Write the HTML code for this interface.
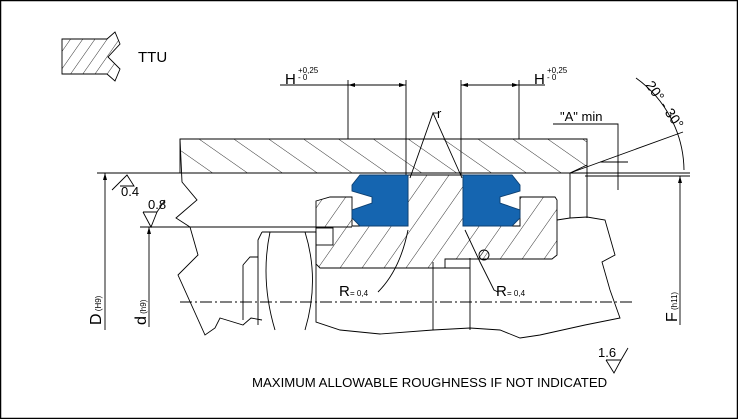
<!DOCTYPE html>
<html><head><style>
html,body{margin:0;padding:0;background:#fff;}
svg{display:block}
text{font-family:"Liberation Sans",sans-serif;fill:#000}
</style></head><body>
<svg width="738" height="419" viewBox="0 0 738 419" xmlns="http://www.w3.org/2000/svg">
<defs>
<pattern id="h" patternUnits="userSpaceOnUse" width="18" height="18" patternTransform="rotate(35)">
<line x1="0" y1="0" x2="0" y2="18" stroke="#000" stroke-width="0.8"/>
</pattern>
<pattern id="hh" patternUnits="userSpaceOnUse" width="20" height="20" patternTransform="rotate(-55)">
<line x1="0" y1="0" x2="0" y2="20" stroke="#000" stroke-width="0.8"/>
</pattern>
<pattern id="h2" patternUnits="userSpaceOnUse" width="10" height="10" patternTransform="rotate(35)">
<line x1="0" y1="0" x2="0" y2="10" stroke="#000" stroke-width="0.8"/>
</pattern>
<pattern id="h3" patternUnits="userSpaceOnUse" width="4" height="4" patternTransform="rotate(35)">
<line x1="0" y1="0" x2="0" y2="4" stroke="#000" stroke-width="0.8"/>
</pattern>
</defs>
<rect x="0.5" y="0.5" width="737" height="418" fill="#fff" stroke="#000" stroke-width="1.5"/>
<g fill="none" stroke="#000" stroke-width="0.9">
<!-- TTU icon -->
<path d="M62,39 L107,39 L115,32 L120,44 L108,57 L120,69 L115,81 L107,74 L62,74 Z" fill="url(#h2)"/>
<!-- housing -->
<path d="M180,139 L587,139 L587,165 L570,173 L180,173 Z" fill="url(#hh)"/>
<line x1="97" y1="173" x2="180" y2="173"/>
<line x1="570" y1="173" x2="690" y2="173"/>
<line x1="585" y1="176" x2="690" y2="176"/>
<line x1="570" y1="173" x2="570" y2="218"/><line x1="587" y1="165" x2="587" y2="218"/>
<!-- left break line -->
<path d="M180,139 L182,182 L197,200 L176,218 L190,227 L198,255 L178,275 L205,335 L215,328 L220,318 L243,325 L251,318 L262,320"/>
<line x1="140" y1="227" x2="352" y2="227"/>
<line x1="180" y1="173" x2="352" y2="173"/>
<!-- piston -->
<path d="M316,201 L330,197 L352,197 L352,226 L408,226 L408,175 L463,175 L463,226 L520,226 L520,197 L555,197 L557,200 L557,255 L552,259 L445,259 L445,268 L320,268 L316,264 Z" fill="url(#h)"/>
<rect x="316" y="228" width="17" height="17" fill="#fff"/>
<line x1="320" y1="268" x2="470" y2="268"/>
<line x1="433" y1="262" x2="433" y2="330"/><line x1="470" y1="258" x2="470" y2="330"/>
<circle cx="484" cy="255" r="5" fill="url(#h3)"/>
<!-- rod/nut -->
<path d="M262,232 L316,232 L316,300 M262,232 L258,240 L258,325"/>
<path d="M243,265 L243,320 M243,265 L250,257 L258,257"/>
<path d="M270,232 Q260,280 275,330"/>
<path d="M305,232 Q320,280 305,330"/>
<path d="M316,300 L316,322 L340,330 L380,334 L433,330 L470,328 L500,330 L520,338 L540,335 L585,325 L620,318 L610,290 L602,262 L615,255 L605,220 L587,217 L570,218 L557,220"/>
<!-- seals -->
<path d="M352,185 L360,175 L408,175 L408,226 L360,226 L352,218 L352,210 L372,203 L372,197 L352,191 Z" fill="#1565b0" stroke="#0d3f70"/>
<path d="M520,185 L512,175 L463,175 L463,226 L512,226 L520,218 L520,210 L500,203 L500,197 L520,191 Z" fill="#1565b0" stroke="#0d3f70"/>
<!-- centerline -->
<line x1="180" y1="302" x2="635" y2="302" stroke-dasharray="12,3,2,3"/>
<!-- H dimensions -->
<line x1="348" y1="80" x2="348" y2="139"/><line x1="406" y1="80" x2="406" y2="175"/>
<line x1="280" y1="85" x2="406" y2="85"/>
<line x1="461" y1="80" x2="461" y2="175"/><line x1="519" y1="80" x2="519" y2="139"/>
<line x1="461" y1="85" x2="545" y2="85"/>
<!-- r leaders -->
<path d="M410,178 L433,113 L462,178"/><line x1="433" y1="113" x2="438" y2="113"/>
<path d="M408,230 Q400,270 378,292"/>
<path d="M465,230 L480,262 L494,290 L498,292"/>
<!-- A min -->
<path d="M553,124 L618,124 L618,190"/>
<line x1="600" y1="162" x2="628" y2="162"/>
<line x1="570" y1="173" x2="683" y2="132"/>
<path d="M636,78 A115,115 0 0 1 684,170"/>
<!-- D d F -->
<line x1="105" y1="173" x2="105" y2="330"/>
<line x1="149" y1="227" x2="149" y2="327"/>
<line x1="680" y1="176" x2="680" y2="325"/>
<!-- roughness -->
<path d="M112,190 L127,175 L134,186 L120,186"/>
<path d="M143,212 L151,227 L157,212 L143,212 M157,212 L165,200"/>
<path d="M606,360 L614,373 L621,360 L606,360 M621,360 L628,348"/>
</g>
<g fill="#000">
<path d="M105,173 l-2,7 h4 z"/><path d="M149,227 l-2,7 h4 z"/><path d="M680,176 l-2,7 h4 z"/>
<path d="M348,85 l7,-2 v4 z"/><path d="M406,85 l-7,-2 v4 z"/>
<path d="M461,85 l7,-2 v4 z"/><path d="M519,85 l-7,-2 v4 z"/>
</g>
<text x="138" y="62" font-size="15">TTU</text>
<text x="285" y="84" font-size="15">H</text><text x="298" y="73" font-size="8">+0,25</text><text x="298" y="80" font-size="8">- 0</text>
<text x="534" y="84" font-size="15">H</text><text x="547" y="73" font-size="8">+0,25</text><text x="547" y="80" font-size="8">- 0</text>
<text x="437" y="118" font-size="13">r</text>
<text x="560" y="121" font-size="13">"A" min</text>
<text x="0" y="0" font-size="14" transform="translate(645,85) rotate(55)">20° - 30°</text>
<text x="121" y="196" font-size="13">0.4</text>
<text x="148" y="209" font-size="13">0.8</text>
<text x="339" y="296" font-size="15">R</text><text x="350" y="296" font-size="8">= 0,4</text>
<text x="496" y="296" font-size="15">R</text><text x="507" y="296" font-size="8">= 0,4</text>
<text x="598" y="357" font-size="13">1.6</text>
<text x="252" y="387" font-size="13.2">MAXIMUM ALLOWABLE ROUGHNESS IF NOT INDICATED</text>
<text transform="translate(101,325) rotate(-90)" font-size="16">D<tspan font-size="8"> (H9)</tspan></text>
<text transform="translate(146,325) rotate(-90)" font-size="16">d<tspan font-size="8"> (h9)</tspan></text>
<text transform="translate(677,322) rotate(-90)" font-size="16">F<tspan font-size="8"> (h11)</tspan></text>
</svg>
</body></html>
